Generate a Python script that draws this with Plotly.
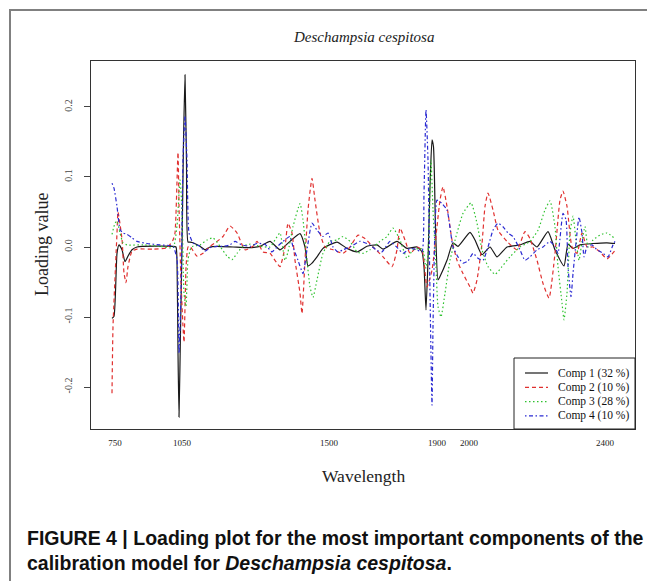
import plotly.graph_objects as go

# band index (position along the spectrum axis) and loading values
comp1_band = [0, 2, 5, 7, 10, 13, 16, 20, 25, 61, 64, 65, 66, 67, 68.5, 70, 71.5, 73, 74.5, 76,
              78, 81, 88, 93, 98, 105, 121, 135, 148, 158, 168, 178, 188, 193, 196, 200, 205, 211,
              225, 235, 245, 255, 265, 271, 285, 295, 305, 310, 312, 314, 316, 318, 320, 321.5,
              323.5, 326, 328, 335, 341, 346, 358, 363, 370, 378, 385, 395, 408, 418, 425, 436,
              443, 452, 456, 461, 468, 481, 495, 503]
comp1 = [-0.102, -0.099, -0.009, 0.003, -0.004, -0.021, -0.013, -0.004, 0.0, 0.001, 0.0, -0.02,
         -0.15, -0.243, -0.12, 0.0, 0.15, 0.246, 0.12, 0.007, 0.007, 0.006, 0.001, -0.004, 0.0,
         0.001, 0.0, -0.001, 0.001, 0.008, -0.004, 0.008, 0.019, 0.0, -0.027, -0.023, -0.014,
         -0.002, 0.007, -0.002, -0.007, 0.001, 0.003, -0.003, 0.008, -0.002, 0.0, -0.007, -0.028,
         -0.09, -0.019, 0.086, 0.153, 0.143, 0.029, -0.047, -0.042, -0.019, 0.006, 0.001, 0.021,
         0.01, -0.011, 0.0, -0.014, 0.0, 0.003, 0.008, 0.0, 0.022, -0.004, -0.027, 0.004, -0.002,
         0.003, 0.005, 0.006, 0.005]

comp2_band = [0, 1, 5, 6, 10, 12, 14, 16, 20, 25, 41, 55, 61, 63, 66, 67, 69, 72, 74, 76,
              78, 85, 91, 98, 105, 111, 118, 125, 133, 141, 145, 151, 158, 163, 168, 173, 176, 180,
              183, 188, 190, 193, 196, 200, 203, 208, 213, 221, 231, 238, 246, 253, 261, 271, 280,
              285, 288, 293, 298, 305, 310, 315, 320, 325, 328, 331, 335, 340, 345, 351, 358, 361,
              365, 370, 373, 376, 381, 386, 395, 405, 413, 418, 425, 431, 437, 443, 448, 451, 455,
              460, 465, 470, 475, 481, 488, 495, 503]
comp2 = [-0.209, -0.114, 0.02, 0.05, 0.011, -0.037, -0.051, -0.028, -0.006, -0.003,
         -0.003, -0.001, 0.01, 0.02, 0.135, 0.06, -0.05, -0.136, -0.03, 0.0,
         0.001, -0.013, -0.009, 0.001, 0.008, 0.015, 0.03, 0.02, -0.004, 0.001,
         0.008, -0.007, -0.009, -0.019, -0.028, 0.0, 0.034, 0.02, -0.019, -0.066,
         -0.095, -0.019, 0.053, 0.098, 0.067, 0.02, 0.0, -0.004, -0.009, 0.0,
         0.017, 0.012, 0.0, -0.014, -0.028, -0.004, 0.027, 0.01, -0.009, 0.0,
         -0.004, -0.057, -0.033, 0.029, 0.067, 0.086, 0.058, 0.01, -0.019, -0.038,
         -0.057, -0.066, -0.047, 0.005, 0.058, 0.077, 0.053, 0.024, 0.008, -0.004,
         0.022, 0.012, -0.019, -0.052, -0.073, -0.009, 0.067, 0.08, 0.058, 0.0,
         -0.009, 0.02, 0.0, 0.0, -0.007, -0.017, -0.005]

comp3_band = [0, 3, 5, 8, 11, 15, 31, 48, 61, 65, 68, 70, 72, 74, 76, 79, 81, 88, 95, 101,
              108, 115, 120, 125, 131, 138, 148, 158, 163, 168, 173, 176, 181, 188, 191, 195, 198,
              201, 205, 211, 218, 225, 231, 238, 245, 251, 258, 268, 275, 281, 288, 295, 301, 308,
              311, 314, 316, 319, 321, 324, 326, 329, 333, 338, 345, 351, 359, 365, 370, 376, 383,
              390, 398, 408, 418, 426, 433, 438, 443, 446, 450, 452, 455, 458, 461, 464, 467, 470,
              473, 476, 481, 488, 495, 503]
comp3 = [0.018, 0.034, 0.037, 0.02, 0.006, 0.003, 0.003, 0.001, -0.001, 0.03,
         0.096, 0.053, -0.066, -0.085, -0.018, -0.001, 0.001, 0.003, 0.01, 0.013,
         0.001, -0.013, -0.018, -0.009, 0.001, 0.004, 0.001, 0.0, 0.01, 0.02,
         -0.019, -0.007, 0.029, 0.062, 0.039, -0.019, -0.057, -0.072, -0.047, -0.009,
         0.008, 0.01, 0.015, 0.008, -0.007, -0.009, -0.004, 0.008, 0.015, 0.027,
         0.01, -0.016, -0.004, -0.002, -0.004, -0.03, -0.01, 0.124, 0.053, -0.028,
         -0.085, -0.1, -0.066, -0.019, 0.02, 0.048, 0.063, 0.034, -0.004, -0.028,
         -0.039, -0.028, -0.014, 0.0, 0.008, 0.024, 0.053, 0.066, 0.029, -0.028,
         -0.08, -0.104, -0.066, 0.02, 0.044, 0.01, -0.019, 0.008, 0.029, 0.0,
         0.01, 0.017, 0.02, 0.012]

comp4_band = [0, 2, 5, 8, 11, 15, 20, 25, 35, 48, 61, 65, 67, 69, 71, 73, 75, 77, 81, 88,
              93, 98, 105, 111, 118, 123, 130, 138, 145, 153, 160, 165, 171, 178, 181, 186, 191,
              195, 200, 205, 211, 216, 221, 226, 231, 238, 248, 258, 265, 270, 278, 286, 291, 298,
              305, 310, 312, 314, 316, 318, 320, 321, 323, 325, 330, 335, 341, 346, 351, 356, 361,
              366, 371, 376, 381, 386, 391, 396, 401, 408, 413, 418, 425, 431, 438, 443, 446, 451,
              454, 456, 459, 461, 465, 467, 470, 472, 475, 480, 485, 491, 496, 501, 503]
comp4 = [0.091, 0.084, 0.058, 0.025, 0.02, 0.018, 0.013, 0.008, 0.005, 0.003,
         0.001, -0.018, -0.152, -0.066, 0.125, 0.187, 0.125, 0.02, 0.006, 0.001,
         -0.006, -0.001, 0.001, 0.001, 0.003, 0.008, 0.003, 0.001, 0.005, 0.004,
         -0.007, 0.0, 0.008, 0.015, 0.0, -0.019, -0.038, -0.004, 0.034, 0.024,
         0.015, 0.02, 0.0, -0.007, -0.004, 0.0, 0.008, 0.003, -0.005, -0.007,
         0.008, -0.002, -0.009, -0.002, -0.004, -0.007, 0.077, 0.196, 0.124, -0.066,
         -0.226, -0.114, 0.029, 0.067, 0.062, 0.053, 0.0, -0.014, -0.023, -0.02,
         -0.009, -0.016, -0.019, 0.0, 0.024, 0.034, 0.029, 0.02, 0.015, -0.004,
         -0.019, -0.014, -0.004, 0.0, 0.008, 0.0, -0.009, 0.048, 0.039, -0.028,
         -0.071, -0.038, 0.02, 0.043, 0.02, -0.014, 0.0, 0.003, -0.004, -0.009,
         -0.014, 0.003, 0.008]

# wavelength labels and the band positions they sit at
tick_band = [3, 70, 217, 325, 357, 493]
tick_wavelength = ["750", "1050", "1500", "1900", "2000", "2400"]

names = ["Comp 1 (32 %)", "Comp 2 (10 %)", "Comp 3 (28 %)", "Comp 4 (10 %)"]

SERIF = "Liberation Serif, Times New Roman, serif"
SANS = "Liberation Sans, Arial, sans-serif"

# page layout in pixels (the html body adds an 8px margin, so shift by it)
W, H = 655, 581
OFF = 8
L, R, T, B = 91, 635, 61, 429


def px(x):
    return (x - L) / (R - L)


def py(y):
    return (B - y) / (B - T)


styles = [("#1a1a1a", "solid"), ("#e0302f", "4px,3px"),
          ("#2fc22f", "1.5px,2.5px"), ("#2a2ad2", "1.5px,2.5px,4px,2.5px")]
series = [(comp1_band, comp1), (comp2_band, comp2), (comp3_band, comp3), (comp4_band, comp4)]

fig = go.Figure()
for (xb, yv), name, (col, dash) in zip(series, names, styles):
    fig.add_trace(go.Scatter(x=xb, y=yv, mode="lines", name=name,
                             line=dict(color=col, width=1.2, dash=dash,
                                       shape="spline", smoothing=0.5)))

# outer frame of the figure panel
shapes = [dict(type="rect", xref="paper", yref="paper",
               x0=px(10), y0=py(700), x1=px(720), y1=py(10),
               line=dict(color="#808080", width=2), layer="below")]
annotations = []

# legend box, drawn like R's legend() in the bottom-right corner
shapes.append(dict(type="rect", xref="paper", yref="paper",
                   x0=px(514), y0=py(429), x1=px(635), y1=py(358),
                   line=dict(color="#222", width=1), fillcolor="white"))
for i, (name, (col, dash)) in enumerate(zip(names, styles)):
    yrow = 373 + i * 14.3
    shapes.append(dict(type="line", xref="paper", yref="paper",
                       x0=px(525), x1=px(548), y0=py(yrow), y1=py(yrow),
                       line=dict(color=col, width=1.2, dash=dash)))
    annotations.append(dict(text=name, x=px(556), y=py(yrow), xref="paper", yref="paper",
                            xanchor="left", yanchor="middle", showarrow=False,
                            font=dict(family=SERIF, size=11.5, color="#111")))

annotations += [
    dict(text="<i>Deschampsia cespitosa</i>", x=0.5, y=py(37), xref="paper", yref="paper",
         xanchor="center", yanchor="middle", showarrow=False,
         font=dict(family=SERIF, size=15, color="#222")),
    dict(text="Wavelength", x=0.5, y=py(476), xref="paper", yref="paper",
         xanchor="center", yanchor="middle", showarrow=False,
         font=dict(family=SERIF, size=17.5, color="#222")),
    dict(text="Loading value", x=px(42), y=py(245), xref="paper", yref="paper",
         xanchor="center", yanchor="middle", textangle=-90, showarrow=False,
         font=dict(family=SERIF, size=18, color="#222")),
    dict(text="<b>FIGURE 4 | Loading plot for the most important components of the<br>"
              "calibration model for <i>Deschampsia cespitosa</i>.</b>",
         x=px(25), y=py(550), xref="paper", yref="paper", xanchor="left", yanchor="middle",
         align="left", showarrow=False, font=dict(family=SANS, size=19.5, color="#111")),
]

fig.update_layout(
    width=W, height=H,
    margin=dict(l=L - OFF, r=W - R + OFF, t=T - OFF, b=H - B + OFF),
    paper_bgcolor="white", plot_bgcolor="white",
    showlegend=False,
    xaxis=dict(range=[-21, 523], tickmode="array", tickvals=tick_band,
               ticktext=tick_wavelength, ticks="", showgrid=False, zeroline=False,
               showline=True, mirror=True, linecolor="#333", linewidth=1,
               tickfont=dict(family=SERIF, size=9, color="#222"), ticklabelstandoff=5),
    yaxis=dict(range=[-0.26, 0.2657], tickmode="array",
               tickvals=[-0.2, -0.1, 0.0, 0.1, 0.2],
               ticktext=["-0.2", "-0.1", "0.0", "0.1", "0.2"],
               ticks="outside", ticklen=6, tickcolor="#444", tickangle=-90,
               showgrid=False, zeroline=False, showline=True, mirror=True,
               linecolor="#333", linewidth=1,
               tickfont=dict(family=SERIF, size=10, color="#444"), ticklabelstandoff=8),
    shapes=shapes,
    annotations=annotations,
)

fig.write_html("out.html")
